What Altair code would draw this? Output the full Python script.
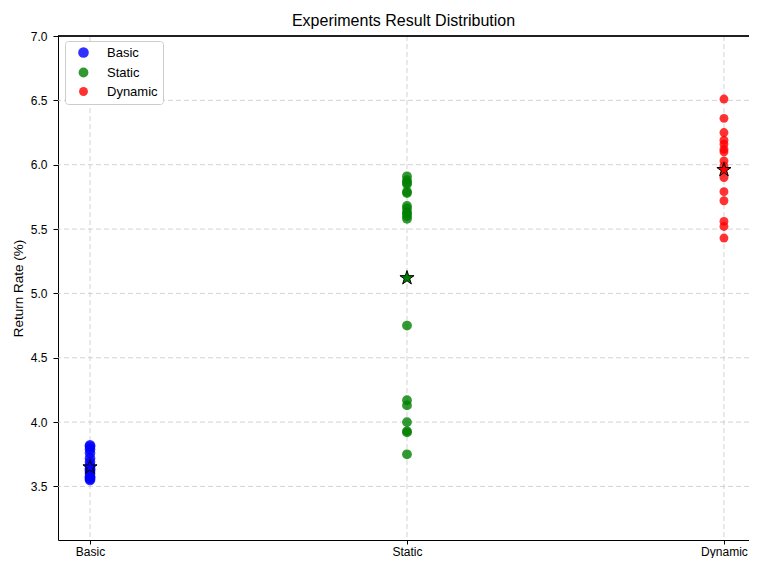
import json
import altair as alt
import pandas as pd

categories = ["Basic", "Static", "Dynamic"]
colors = ["#0000ff", "#008000", "#ff0000"]
point_sizes = [113, 79, 95]

basic_values = [3.82, 3.81, 3.79, 3.76, 3.72, 3.69, 3.66, 3.64, 3.63, 3.62,
                3.60, 3.58, 3.57, 3.56, 3.55]
static_values = [5.91, 5.88, 5.86, 5.85, 5.79, 5.78, 5.68, 5.66, 5.63, 5.62,
                 5.60, 5.58, 4.75, 4.17, 4.13, 4.00, 3.93, 3.92, 3.75]
dynamic_values = [6.51, 6.36, 6.25, 6.19, 6.16, 6.12, 6.10, 6.03, 5.99, 5.90,
                  5.79, 5.72, 5.56, 5.52, 5.43]
mean_values = [3.65, 5.12, 5.96]

y_ticks = [3.5, 4.0, 4.5, 5.0, 5.5, 6.0, 6.5, 7.0]
y_domain = [3.084, 7.0]
x_domain = [-0.101, 2.079]

PLOT_W = 691
PLOT_H = 504

STAR = ("M0,-1 L0.2245,-0.309 L0.951,-0.309 L0.363,0.118 L0.588,0.809 "
        "L0,0.382 L-0.588,0.809 L-0.363,0.118 L-0.951,-0.309 L-0.2245,-0.309 Z")

rows = []
for i, (cat, vals) in enumerate(zip(categories, [basic_values, static_values, dynamic_values])):
    for v in vals:
        rows.append({"group": cat, "idx": i, "rate": v})
df = pd.DataFrame(rows)
means = pd.DataFrame({"group": categories, "idx": list(range(len(categories))),
                      "rate": mean_values})
grid_y = pd.DataFrame({"rate": [t for t in y_ticks if t < y_domain[1]]})
grid_x = pd.DataFrame({"idx": list(range(len(categories)))})

FONT = "Liberation Sans"
GRID = dict(color="#c8c8c8", strokeDash=[5, 3], strokeWidth=0.8)

x_scale = alt.Scale(domain=x_domain, nice=False, zero=False)
y_scale = alt.Scale(domain=y_domain, nice=False, zero=False)

label_expr = json.dumps(categories) + "[round(datum.value)]"

x_enc = alt.X(
    "idx:Q",
    scale=x_scale,
    axis=alt.Axis(title=None, grid=False, values=list(range(len(categories))),
                  labelExpr=label_expr, labelFontSize=12, labelPadding=2,
                  tickSize=4, labelFlush=False),
)
y_enc = alt.Y(
    "rate:Q",
    scale=y_scale,
    axis=alt.Axis(values=y_ticks, format=".1f", title="Return Rate (%)",
                  grid=False, labelFontSize=12, labelPadding=6, tickSize=5,
                  titleFontSize=13.5, titleFontWeight="normal", titlePadding=5),
)

legend = alt.Legend(
    title=None, orient="none", legendX=7, legendY=5,
    labelFontSize=13, labelFont=FONT, padding=5, rowPadding=3,
    symbolOffset=7, labelOffset=17,
    strokeColor="#cccccc", fillColor="white", cornerRadius=3,
    symbolOpacity=0.8,
)

grid_h = alt.Chart(grid_y).mark_rule(**GRID).encode(
    y=alt.Y("rate:Q", scale=y_scale)
)
grid_v = alt.Chart(grid_x).mark_rule(**GRID).encode(
    x=alt.X("idx:Q", scale=x_scale)
)
top_spine = alt.Chart(grid_x).mark_rule(color="black", strokeWidth=1).encode(
    x=alt.value(0), x2=alt.value(PLOT_W), y=alt.value(0)
)

points = alt.Chart(df).mark_circle(opacity=0.8).encode(
    x=x_enc,
    y=y_enc,
    color=alt.Color("group:N", sort=categories,
                    scale=alt.Scale(domain=categories, range=colors),
                    legend=legend),
    size=alt.Size("group:N", sort=categories,
                  scale=alt.Scale(domain=categories, range=point_sizes),
                  legend=legend),
)

stars = alt.Chart(means).mark_point(
    shape=STAR, filled=True, size=220, stroke="black", strokeWidth=1,
    opacity=1, strokeOpacity=1,
).encode(
    x=alt.X("idx:Q"),
    y=alt.Y("rate:Q"),
    fill=alt.Fill("group:N", scale=alt.Scale(domain=categories, range=colors),
                  legend=None),
)

chart = (
    alt.layer(grid_h, grid_v, points, stars, top_spine)
    .properties(
        width=PLOT_W,
        height=PLOT_H,
        title=alt.Title("Experiments Result Distribution", fontSize=16,
                        font=FONT, fontWeight="normal", anchor="middle",
                        offset=1, color="black"),
        autosize=alt.AutoSizeParams(type="none"),
        padding={"left": 50, "top": 28, "right": 0, "bottom": 18},
    )
    .configure(font=FONT)
    .configure_view(stroke=None)
    .configure_axis(
        domainColor="black", tickColor="black", labelColor="black",
        titleColor="black", labelFont=FONT, titleFont=FONT,
    )
)

chart.save("out.html", embed_options={"renderer": "svg", "actions": False})
